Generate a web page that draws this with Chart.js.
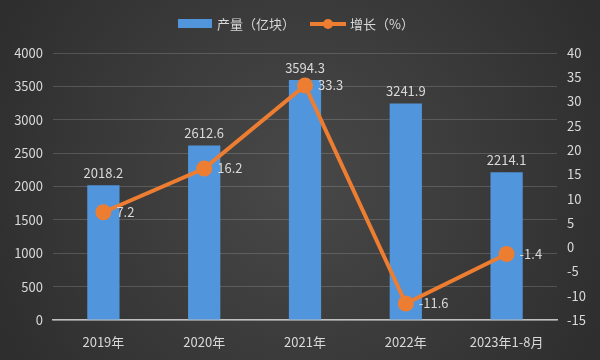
<!DOCTYPE html>
<html>
<head>
  <title>产量与增长</title>
  <script src="https://cdn.jsdelivr.net/npm/chart.js/dist/chart.umd.js"></script>
  <style>
    html, body { margin: 0; padding: 0; background: #333; }
    #wrap { width: 600px; height: 360px; }
  </style>
</head>
<body>
  <div id="wrap"><canvas id="data-chart"></canvas></div>
  <script>
    // chart values
    const categories = ['2019年', '2020年', '2021年', '2022年', '2023年1-8月'];
    const output = [2018.2, 2612.6, 3594.3, 3241.9, 2214.1];
    const growth = [7.2, 16.2, 33.3, -11.6, -1.4];
    const seriesNames = ['产量（亿块）', '增长（%）'];

    const textColor = '#d9d9d9';
    const barColor = '#5196dc';
    const lineColor = '#ed7d31';
    const font = '"Noto Sans CJK SC", "DejaVu Sans", sans-serif';

    // background + legend + value labels
    const decor = {
      id: 'decor',
      beforeDraw(chart) {
        const c = chart.ctx;
        const w = chart.width, h = chart.height;
        const g = c.createRadialGradient(w / 2, h / 2, 20, w / 2, h / 2, w * 0.6);
        g.addColorStop(0, '#474747');
        g.addColorStop(1, '#2c2c2c');
        c.save();
        c.fillStyle = g;
        c.fillRect(0, 0, w, h);
        c.restore();
      },
      afterDatasetsDraw(chart) {
        const c = chart.ctx;
        c.save();
        c.font = '13px ' + font;
        c.fillStyle = textColor;

        // bar labels (dataset 1)
        c.textAlign = 'center';
        c.textBaseline = 'bottom';
        chart.getDatasetMeta(1).data.forEach((el, i) => {
          c.fillText(output[i].toFixed(1), el.x, el.y - 6);
        });
        // line labels (dataset 0)
        c.textAlign = 'left';
        c.textBaseline = 'middle';
        chart.getDatasetMeta(0).data.forEach((el, i) => {
          c.fillText(growth[i].toFixed(1), el.x + 13, el.y);
        });

        // legend
        c.fillStyle = barColor;
        c.fillRect(178, 19, 34, 9);
        c.fillStyle = textColor;
        c.textBaseline = 'middle';
        c.fillText(seriesNames[0], 217, 24);
        c.strokeStyle = lineColor;
        c.lineWidth = 4;
        c.beginPath();
        c.moveTo(310, 24);
        c.lineTo(346, 24);
        c.stroke();
        c.fillStyle = lineColor;
        c.beginPath();
        c.arc(328, 24, 5, 0, Math.PI * 2);
        c.fill();
        c.fillStyle = textColor;
        c.fillText(seriesNames[1], 350, 24);
        c.restore();
      }
    };

    const ctx = document.getElementById('data-chart').getContext('2d');
    new Chart(ctx, {
      data: {
        labels: categories,
        datasets: [
          {
            type: 'line',
            label: seriesNames[1],
            data: growth,
            yAxisID: 'y2',
            borderColor: lineColor,
            backgroundColor: lineColor,
            borderWidth: 4,
            pointRadius: 6,
            pointHoverRadius: 6,
            tension: 0,
            order: 0
          },
          {
            type: 'bar',
            label: seriesNames[0],
            data: output,
            yAxisID: 'y',
            backgroundColor: barColor,
            categoryPercentage: 1,
            barPercentage: 0.32,
            order: 1
          }
        ]
      },
      options: {
        responsive: true,
        maintainAspectRatio: false,
        animation: false,
        layout: { padding: { top: 53, left: 0, right: 0, bottom: 0 } },
        plugins: { legend: { display: false }, tooltip: { enabled: false } },
        scales: {
          x: {
            grid: { display: false },
            border: { color: '#bfbfbf', width: 1.5 },
            ticks: { color: textColor, font: { size: 13, family: font }, padding: 6, maxRotation: 0 },
            afterFit(s) { s.height = 40; }
          },
          y: {
            position: 'left',
            min: 0, max: 4000,
            ticks: { stepSize: 500, color: textColor, font: { size: 13, family: font }, padding: 10,
                     callback: v => String(v) },
            grid: { color: 'rgba(255,255,255,0.16)', drawTicks: false },
            border: { display: false },
            afterFit(s) { s.width = 53; }
          },
          y2: {
            position: 'right',
            min: -15, max: 40,
            ticks: { stepSize: 5, color: textColor, font: { size: 13, family: font }, padding: 10 },
            grid: { display: false, drawTicks: false },
            border: { display: false },
            afterFit(s) { s.width = 43; }
          }
        }
      },
      plugins: [decor]
    });
  </script>
</body>
</html>
